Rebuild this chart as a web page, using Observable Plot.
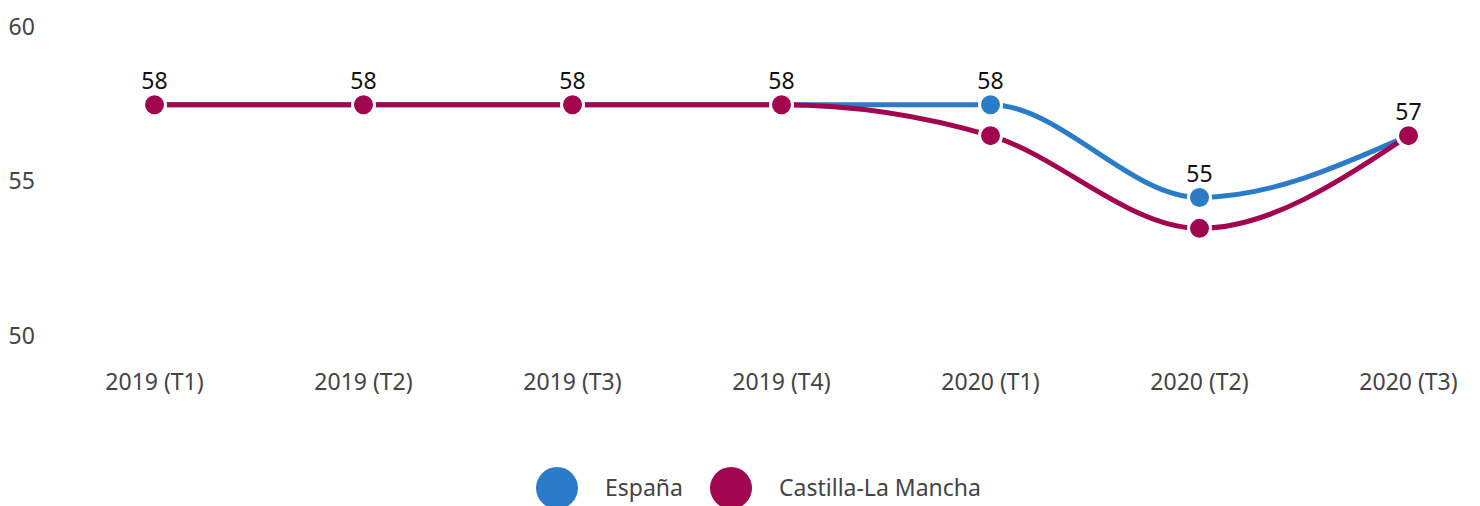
<!DOCTYPE html>
<html><head><meta charset="utf-8">
<script src="https://cdn.jsdelivr.net/npm/d3@7"></script>
<script src="https://cdn.jsdelivr.net/npm/@observablehq/plot@0.6"></script>
<style>
body{margin:0;background:#fff;font-family:"Noto Sans",sans-serif;}
#chart svg{display:block;}
</style></head>
<body><div id="chart"></div>
<script>
const periods = ["2019 (T1)","2019 (T2)","2019 (T3)","2019 (T4)","2020 (T1)","2020 (T2)","2020 (T3)"];
const espana = [57.5,57.5,57.5,57.5,57.5,54.5,56.5];
const castilla = [57.5,57.5,57.5,57.5,56.5,53.5,56.5];
const series = ["España","Castilla-La Mancha"];
const colors = ["#2a7bc8","#a1064f"];
const yTicks = [50,55,60];

const dE = periods.map((p,i)=>({p, v:espana[i], s:series[0]}));
const dC = periods.map((p,i)=>({p, v:castilla[i], s:series[1]}));

const chart = Plot.plot({
  width:1480, height:506,
  marginLeft:154, marginRight:72, marginTop:27, marginBottom:170,
  style:{fontFamily:"Noto Sans", fontSize:"23px", color:"#444", overflow:"hidden"},
  x:{type:"point", domain:periods, padding:0, label:null},
  y:{domain:[50,60], label:null},
  color:{domain:series, range:colors},
  marks:[
    Plot.axisY({ticks:yTicks, tickSize:0, tickPadding:0, textAnchor:"start", dx:-146, fill:"#444", fontSize:23, label:null}),
    Plot.axisX({tickSize:0, tickPadding:37, fill:"#444", fontSize:23, label:null}),
    Plot.line(dE,{x:"p",y:"v",stroke:"s",strokeWidth:5,curve:"monotone-x"}),
    Plot.dot(dE,{x:"p",y:"v",fill:"s",r:11,stroke:"white",strokeWidth:3}),
    Plot.line(dC,{x:"p",y:"v",stroke:"s",strokeWidth:5,curve:"monotone-x"}),
    Plot.dot(dC,{x:"p",y:"v",fill:"s",r:11,stroke:"white",strokeWidth:3}),
    Plot.text(dE,{x:"p",y:"v",text:d=>d3.format(".0f")(Math.round(d.v)),dy:-23,fill:"#111",fontSize:23})
  ]
});
document.getElementById("chart").append(chart);

// legend inside the SVG, using the plot's color scale
const color = chart.scale("color");
const svg = d3.select(chart);
const lg = svg.append("g").attr("font-family","Noto Sans").attr("font-size",23).attr("fill","#444").attr("text-anchor","start");
const itemX = [557, 731];
series.forEach((s,i)=>{
  const g = lg.append("g").attr("transform",`translate(${itemX[i]},488)`);
  g.append("circle").attr("r",21).attr("fill",color.apply(s));
  g.append("text").attr("x",48).attr("dy","0.35em").attr("text-anchor","start").text(s);
});
</script></body></html>
